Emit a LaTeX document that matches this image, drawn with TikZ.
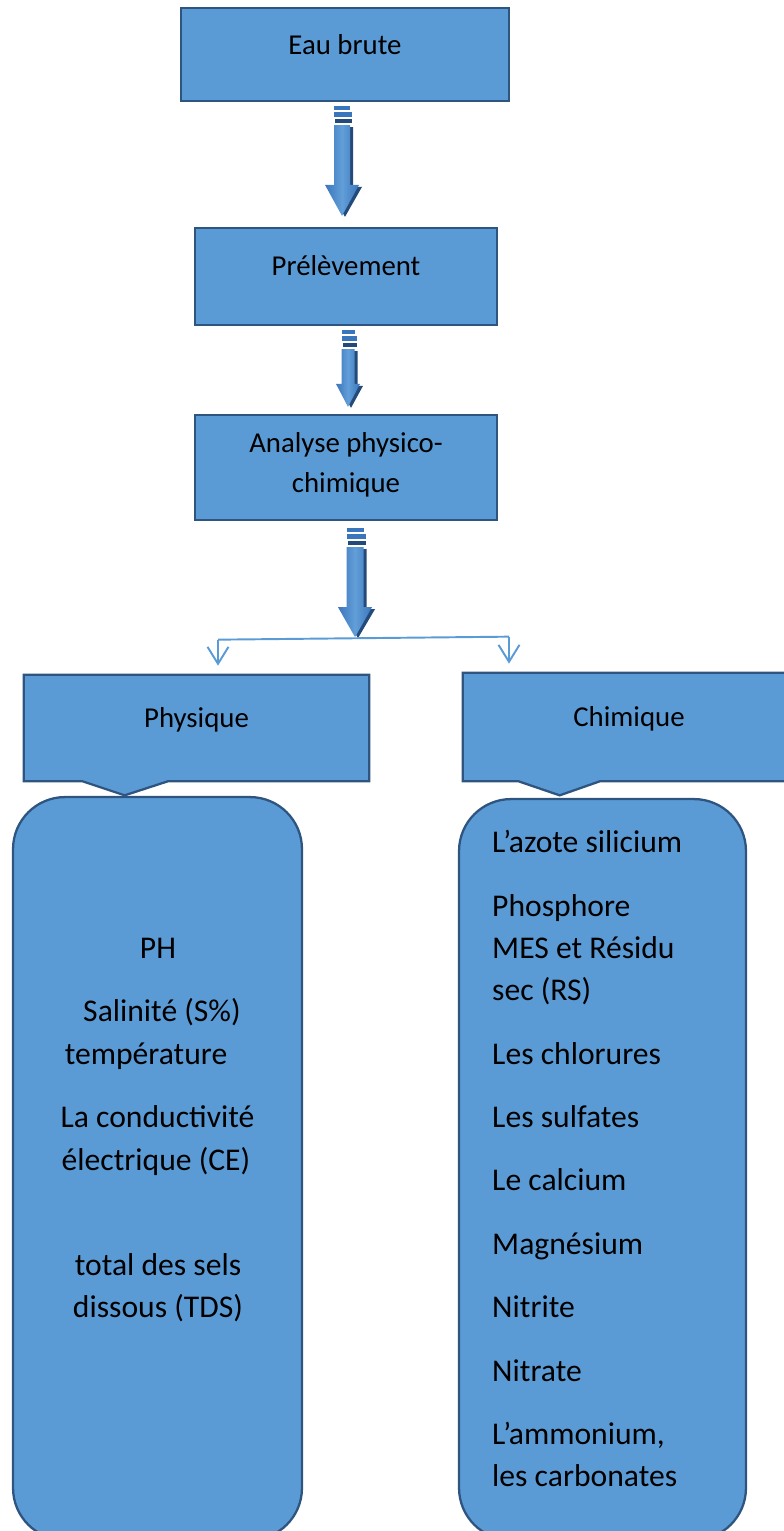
\documentclass[tikz,border=0pt]{standalone}
\usepackage{fontspec}
\setmainfont{Carlito}
\usetikzlibrary{arrows.meta, calc, positioning}
\definecolor{boxblue}{RGB}{91,155,213}
\definecolor{boxline}{RGB}{46,84,128}
\definecolor{arrowmid}{RGB}{58,118,188}
\definecolor{arrowlight}{RGB}{98,158,216}
\definecolor{arrowdark}{RGB}{36,74,122}

\tikzset{
  box/.style={draw=boxline, fill=boxblue, line width=1.3pt},
  lbl/.style={anchor=base, inner sep=0pt, font=\fontsize{16.4}{20}\selectfont},
  item/.style={inner sep=0pt, font=\fontsize{18}{24}\selectfont},
  link/.style={draw=boxblue, line width=1.1pt},
}

% block arrow: #1 top, #2 tip, #3 half shaft, #4 half head, #5 head length
\newcommand{\flowarrow}[5]{
  \fill[arrowmid] ($(#1)+(-#3,0)$) rectangle ($(#1)+(#3,4)$);
  \fill[arrowmid] ($(#1)+(-#3,6)$) rectangle ($(#1)+(#3+2,11)$);
  \fill[arrowdark] ($(#1)+(-#3+1,13)$) rectangle ($(#1)+(#3+2,17)$);
  \fill[arrowdark] ($(#1)+(-#3+3,21)$) -- ($(#2)+(-#3+3,-#5+2)$) -- ($(#2)+(-#4+3,-#5+2)$)
    -- ($(#2)+(3,1)$) -- ($(#2)+(#4+3,-#5+2)$) -- ($(#2)+(#3+3,-#5+2)$) -- ($(#1)+(#3+3,21)$) -- cycle;
  \shade[left color=arrowmid, right color=arrowmid, middle color=arrowlight]
    ($(#1)+(-#3,19)$) -- ($(#2)+(-#3,-#5)$) -- ($(#2)+(-#4,-#5)$) -- (#2)
    -- ($(#2)+(#4,-#5)$) -- ($(#2)+(#3,-#5)$) -- ($(#1)+(#3,19)$) -- cycle;
}

\begin{document}
\begin{tikzpicture}[x=0.02cm, y=-0.02cm]
\useasboundingbox (0,0) rectangle (784,1531);
\clip (0,0) rectangle (784,1531);

%%%%%%%%%%   main chain
\node[box, minimum width=6.56cm, minimum height=1.86cm] (eau) at (345,54.5) {};
\node[lbl] at ($(eau.north)+(0,48)$) {Eau brute};

\node[box, minimum width=6.04cm, minimum height=1.94cm] (prel) at (346,276.5) {};
\node[lbl] at ($(prel.north)+(0,49)$) {Prélèvement};

\node[box, minimum width=6.04cm, minimum height=2.1cm] (anal) at (346,467.5) {};
\node[lbl] at ($(anal.north)+(0,39)$) {Analyse physico-};
\node[lbl] at ($(anal.north)+(0,79)$) {chimique};

\coordinate (a1top) at ($(eau.south)+(-3,4)$);
\coordinate (a1tip) at ($(prel.north)+(-4,-11)$);
\coordinate (a2top) at ($(prel.south)+(2,4)$);
\coordinate (a2tip) at ($(anal.north)+(2,-7)$);
\coordinate (a3top) at ($(anal.south)+(9,7)$);
\coordinate (a3tip) at ($(anal.south)+(9,116)$);
\flowarrow{a1top}{a1tip}{8}{17}{31}
\flowarrow{a2top}{a2tip}{6.5}{12}{23}
\flowarrow{a3top}{a3tip}{8.5}{17}{30}

%%%%%%%%%%   two branches
\node[minimum width=6.9cm, minimum height=2.12cm] (phys) at (196.5,728) {};
\draw[box] (phys.north west) -- (phys.north east) -- (phys.south east)
  -- ($(phys.south west)+(144,0)$) -- ($(phys.south west)+(101,14)$)
  -- ($(phys.south west)+(59,0)$) -- (phys.south west) -- cycle;
\node[lbl] at ($(phys.north)+(0,53)$) {Physique};

\node[minimum width=6.64cm, minimum height=2.16cm] (chem) at (629,727) {};
\draw[box] (chem.north west) -- (chem.north east) -- (chem.south east)
  -- ($(chem.south west)+(137,0)$) -- ($(chem.south west)+(97,14)$)
  -- ($(chem.south west)+(56,0)$) -- (chem.south west) -- cycle;
\node[lbl] at ($(chem.north)+(0,54)$) {Chimique};

\coordinate (jp) at ($(phys.north)+(21.5,-35)$);
\coordinate (jc) at ($(chem.north)+(-120,-36)$);
\coordinate (tp) at ($(phys.north)+(21.5,-9)$);
\coordinate (tc) at ($(chem.north)+(-120,-9)$);
\draw[link] (jp) -- (jc);
\draw[link, -{Straight Barb[length=0.34cm, width=0.42cm]}] (jp) -- (tp);
\draw[link, -{Straight Barb[length=0.34cm, width=0.42cm]}] (jc) -- (tc);

%%%%%%%%%%   lists
\node[box, rounded corners=1.04cm, minimum width=5.78cm, minimum height=14.86cm] (physlist) at (157.5,1168.5) {};
\node[box, rounded corners=1.04cm, minimum width=5.74cm, minimum height=14.82cm] (chemlist) at (602.5,1169.5) {};

\foreach \txt/\dx/\dy in {PH/0.5/163, Salinité (S\%)/4.5/226, température/-11.5/269,
    La conductivité/0/332, électrique (CE)/-1.5/375, total des sels/0.5/480, dissous (TDS)/0.5/522}
  \node[item, anchor=base] at ($(physlist.north)+(\dx,\dy)$) {\txt};

\foreach \txt/\dy in {L’azote silicium/55, Phosphore/119, MES et Résidu/161, sec (RS)/203,
    Les chlorures/267, Les sulfates/330, Le calcium/393, Magnésium/457, Nitrite/520,
    Nitrate/584, {L’ammonium,}/647, les carbonates/689}
  \node[item, anchor=base west] at ($(chemlist.north west)+(34,\dy)$) {\txt};

\end{tikzpicture}
\end{document}
